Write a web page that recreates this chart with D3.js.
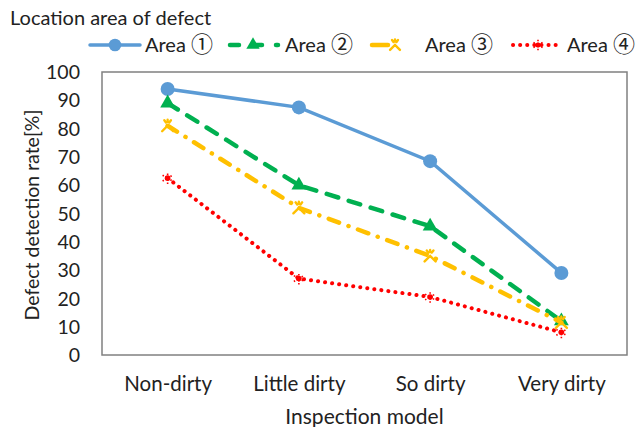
<!DOCTYPE html>
<html><head><meta charset="utf-8">
<script src="https://cdn.jsdelivr.net/npm/d3@7"></script>
<style>body{margin:0;background:#fff}svg{display:block}text{font-family:Lato,"Noto Sans",sans-serif;fill:#222}.cd{font-family:"Noto Sans CJK JP","Noto Sans CJK SC",sans-serif}</style>
</head><body>
<svg id="c" width="636" height="427"></svg>
<script>
const categories = ["Non-dirty","Little dirty","So dirty","Very dirty"];
const seriesNames = ["Area ①","Area ②","Area ③","Area ④"];
const area1 = [94, 87.5, 68.5, 29];
const area2 = [89, 60, 45.5, 12];
const area3 = [81, 52, 35, 11.5];
const area4 = [62.5, 27, 20.5, 8];
const yTicks = [0,10,20,30,40,50,60,70,80,90,100];

const svg = d3.select("#c");
const L=102, R=627, T=72, B=355;
const x = d3.scalePoint().domain(categories).range([L,R]).padding(0.5);
const y = d3.scaleLinear().domain([0,100]).range([B,T]);

const styles = [
  {color:"#5b9bd5", w:3.5, dash:null, cap:"round", marker:"circle"},
  {color:"#00b050", w:4.5, dash:"12,11", cap:"round", marker:"triangle"},
  {color:"#ffc000", w:4.5, dash:"11,10,0.1,10", cap:"round", marker:"x"},
  {color:"#ff0000", w:4, dash:"0.1,7", cap:"round", marker:"star"}
];
const data = [area1, area2, area3, area4];

// plot border
svg.append("rect").attr("x",L).attr("y",T).attr("width",R-L).attr("height",B-T)
  .attr("fill","none").attr("stroke","#808080").attr("stroke-width",1.5);

// y axis
const yAxis = svg.append("g").attr("transform",`translate(${L},0)`)
  .call(d3.axisLeft(y).tickValues(yTicks).tickSize(0).tickPadding(22));
yAxis.select(".domain").remove();
yAxis.selectAll("text").style("font-size","19.5px").attr("fill","#222").attr("dy","0.34em");

// x axis
const xAxis = svg.append("g").attr("transform",`translate(0,${B})`)
  .call(d3.axisBottom(x).tickSize(0).tickPadding(21));
xAxis.select(".domain").remove();
xAxis.selectAll("text").style("font-size","20.5px").attr("fill","#222");

svg.append("text").attr("x",(L+R)/2).attr("y",424)
  .attr("text-anchor","middle").style("font-size","21px").text("Inspection model");
svg.append("text").attr("transform","translate(32,215) rotate(-90)").attr("dy","0.34em")
  .attr("text-anchor","middle").style("font-size","19.5px").text("Defect detection rate[%]");
svg.append("text").attr("x",10).attr("y",18).attr("dy","0.34em")
  .style("font-size","20px").text("Location area of defect");

function drawMarker(g, type, color, cx, cy, scale){
  scale = scale||1;
  if(type==="circle"){
    g.append("circle").attr("cx",cx).attr("cy",cy).attr("r",7*scale).attr("fill",color);
  } else if(type==="triangle"){
    g.append("path").attr("d",d3.symbol(d3.symbolTriangle, 95*scale*scale)())
      .attr("transform",`translate(${cx},${cy})`).attr("fill",color);
  } else if(type==="x"){
    const s=5.5*scale;
    g.append("path").attr("d",`M${cx-s},${cy+s}L${cx},${cy}L${cx+s},${cy+s}M${cx-s*0.6},${cy-s}L${cx-s*0.3},${cy-s*0.6}M${cx+s*0.6},${cy-s}L${cx+s*0.3},${cy-s*0.6}M${cx},${cy-s*1.1}L${cx},${cy-s*0.7}`)
      .attr("stroke",color).attr("stroke-width",2.4).attr("fill","none").attr("stroke-linecap","round");
  } else if(type==="star"){
    g.append("path").attr("d",d3.symbol(d3.symbolAsterisk, 95*scale*scale)())
      .attr("transform",`translate(${cx},${cy})`).attr("fill","none").attr("stroke",color)
      .attr("stroke-width",1.6).attr("stroke-dasharray","1.5,1.5");
    g.append("circle").attr("cx",cx).attr("cy",cy).attr("r",2.8*scale).attr("fill",color);
  }
}

const line = d3.line().x((d,i)=>x(categories[i])).y(d=>y(d));
data.forEach((vals,si)=>{
  const st=styles[si];
  const g=svg.append("g");
  g.append("path").attr("d",line(vals)).attr("fill","none").attr("stroke",st.color)
    .attr("stroke-width",st.w).attr("stroke-dasharray",st.dash).attr("stroke-linecap",st.cap);
  vals.forEach((v,i)=>drawMarker(g, st.marker, st.color, x(categories[i]), y(v)));
});

// legend
const legendX1 = [90, 230, 372, 513];
const legendX2 = [140, 278, 388, 562];
const legendMarkX = [115, 253, 395, 538];
const legendTextX = [145, 285, 425, 567];
const legendDash = [null, "9,14", null, "0.1,7"];
const ly = 45;
seriesNames.forEach((n,i)=>{
  const st=styles[i];
  const g=svg.append("g");
  g.append("line").attr("x1",legendX1[i]).attr("x2",legendX2[i]).attr("y1",ly).attr("y2",ly)
    .attr("stroke",st.color).attr("stroke-width",st.w).attr("stroke-dasharray", legendDash[i]).attr("stroke-linecap",st.cap);
  drawMarker(g, st.marker, st.color, legendMarkX[i], ly, 0.9);
  const parts = n.split(" ");
  const t = g.append("text").attr("x",legendTextX[i]).attr("y",ly).attr("dy","0.36em").style("font-size","20px");
  t.append("tspan").text(parts[0]+" ");
  t.append("tspan").attr("class","cd").style("font-size","22px").text(parts[1]);
});
</script>
</body></html>
